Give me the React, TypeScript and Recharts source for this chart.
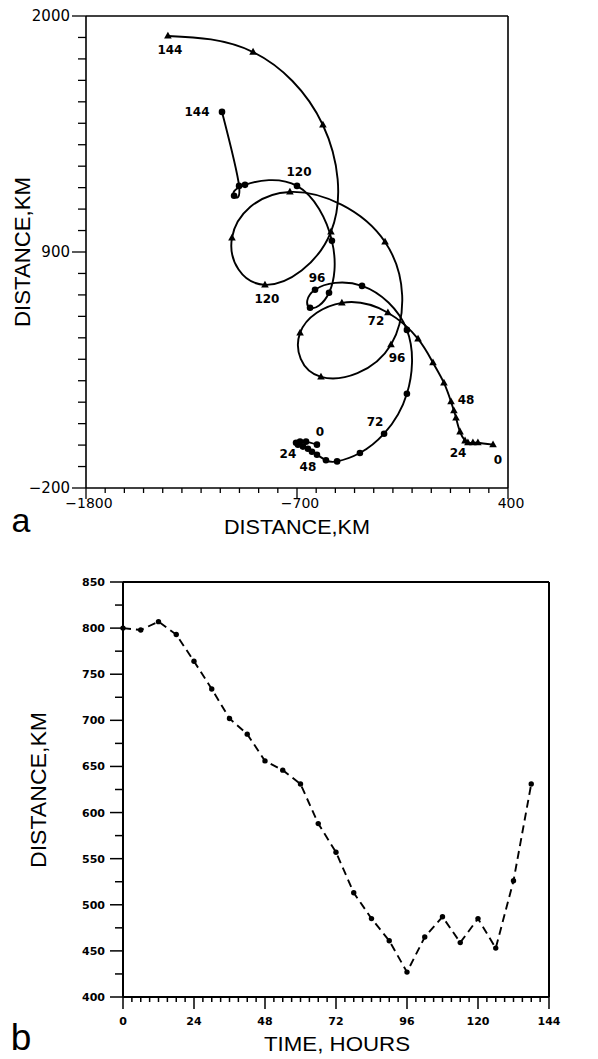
import { Line, LineChart, ReferenceLine, Scatter, ScatterChart, XAxis, YAxis } from "recharts";

// panel a: two tracks, one position every 6 hours
const trackHours = [0, 6, 12, 18, 24, 30, 36, 42, 48, 54, 60, 66, 72, 78, 84, 90, 96, 102, 108, 114, 120, 126, 132, 138, 144];
const triangleX = [322, 243, 217, 191, 176, 150, 129, 118, 103, 66, 9, -69, -226, -466, -684, -575, -210, -241, -737, -1039, -867, -523, -565, -929, -1373];
const triangleY = [2, 11, 11, 11, 20, 62, 127, 160, 202, 290, 384, 495, 617, 663, 523, 318, 468, 947, 1180, 966, 747, 994, 1492, 1832, 1907];
const circleX = [-596, -653, -684, -705, -695, -669, -643, -622, -596, -549, -491, -372, -246, -127, -127, -361, -606, -632, -533, -518, -700, -971, -1028, -1002, -1091];
const circleY = [2, 16, 16, 11, 2, -7, -17, -31, -45, -71, -76, -37, 53, 239, 537, 742, 724, 640, 710, 952, 1208, 1213, 1162, 1208, 1553];

// panel b: separation distance
const sepHours = [0, 6, 12, 18, 24, 30, 36, 42, 48, 54, 60, 66, 72, 78, 84, 90, 96, 102, 108, 114, 120, 126, 132, 138];
const sepDistance = [800, 798, 807, 793, 764, 734, 702, 685, 656, 646, 631, 588, 557, 513, 485, 461, 427, 465, 487, 459, 485, 453, 526, 631];

const aXLabels = [-1800, -700, 400];
const aYLabels = [-200, 900, 2000];
const bXLabels = [0, 24, 48, 72, 96, 120, 144];
const bYLabels = [400, 450, 500, 550, 600, 650, 700, 750, 800, 850];

const aTicks = Array.from({ length: 23 }, (_, i) => -1800 + i * 100);
const aYTicks = Array.from({ length: 23 }, (_, i) => -200 + i * 100);
const bXTicks = Array.from({ length: 49 }, (_, i) => i * 3);
const bYTicks = Array.from({ length: 19 }, (_, i) => 400 + i * 25);

// where each hour label sits relative to its marker
const triangleLabelAt: Record<number, [number, number]> = {
	0: [5, 15],
	24: [-7, 12],
	48: [15, -2],
	72: [-12, 8],
	96: [6, 13],
	120: [2, 14],
	144: [2, 14],
};
const circleLabelAt: Record<number, [number, number]> = {
	0: [3, -13],
	24: [-10, 9],
	48: [-9, 12],
	72: [-9, -12],
	96: [2, -12],
	120: [2, -14],
	144: [-25, 0],
};

const triangleData = trackHours.map((h, i) => ({ hour: h, x: triangleX[i], y: triangleY[i] }));
const circleData = trackHours.map((h, i) => ({ hour: h, x: circleX[i], y: circleY[i] }));
const sepData = sepHours.map((h, i) => ({ hour: h, distance: sepDistance[i] }));

const SANS = "'Liberation Sans', Arial, sans-serif";
const DEJAVU = "'DejaVu Sans', sans-serif";

const fmt = (v: number) => (v < 0 ? "\u2212" + Math.abs(v) : String(v));

function hourLabel(cx: number, cy: number, hour: number, at: Record<number, [number, number]>) {
	const off = at[hour];
	if (!off) return null;
	return (
		<text
			x={cx + off[0]}
			y={cy + off[1]}
			textAnchor="middle"
			dominantBaseline="central"
			fontFamily={DEJAVU}
			fontWeight="bold"
			fontSize={12}
			fill="#000"
		>
			{hour}
		</text>
	);
}

function TriangleMark(props: any) {
	const { cx, cy, payload } = props;
	return (
		<g>
			<path d={`M${cx},${cy - 4.2} L${cx + 3.8},${cy + 2.6} L${cx - 3.8},${cy + 2.6} Z`} fill="#000" />
			{hourLabel(cx, cy, payload.hour, triangleLabelAt)}
		</g>
	);
}

function CircleMark(props: any) {
	const { cx, cy, payload } = props;
	return (
		<g>
			<circle cx={cx} cy={cy} r={3.3} fill="#000" />
			{hourLabel(cx, cy, payload.hour, circleLabelAt)}
		</g>
	);
}

function AXTick(props: any) {
	const { x, y, payload } = props;
	const major = aXLabels.includes(payload.value);
	return (
		<g>
			<line x1={x} y1={y} x2={x} y2={y + (major ? 11 : 5)} stroke="#000" strokeWidth={1.3} />
			{major && (
				<text x={x + 3} y={y + 20} textAnchor="middle" fontFamily={DEJAVU} fontSize={14} fill="#000">
					{fmt(payload.value)}
				</text>
			)}
		</g>
	);
}

function AYTick(props: any) {
	const { x, y, payload } = props;
	const major = aYLabels.includes(payload.value);
	return (
		<g>
			<line x1={x - (major ? 14 : 8)} y1={y} x2={x} y2={y} stroke="#000" strokeWidth={1.3} />
			{major && (
				<text x={x - 16} y={y + 5} textAnchor="end" fontFamily={DEJAVU} fontSize={15} fill="#000">
					{fmt(payload.value)}
				</text>
			)}
		</g>
	);
}

function BXTick(props: any) {
	const { x, y, payload } = props;
	const major = bXLabels.includes(payload.value);
	return (
		<g>
			<line x1={x} y1={y} x2={x} y2={y + (major ? 12 : 5)} stroke="#000" strokeWidth={1.5} />
			{major && (
				<text x={x} y={y + 28} textAnchor="middle" fontFamily={DEJAVU} fontWeight="bold" fontSize={11} fill="#000">
					{payload.value}
				</text>
			)}
		</g>
	);
}

function BYTick(props: any) {
	const { x, y, payload } = props;
	const major = bYLabels.includes(payload.value);
	return (
		<g>
			<line x1={x - (major ? 13 : 8)} y1={y} x2={x} y2={y} stroke="#000" strokeWidth={1.5} />
			{major && (
				<text x={x - 18} y={y + 4} textAnchor="end" fontFamily={DEJAVU} fontWeight="bold" fontSize={11} fill="#000">
					{payload.value}
				</text>
			)}
		</g>
	);
}

function SepDot(props: any) {
	const { cx, cy, index } = props;
	return <circle key={index} cx={cx} cy={cy} r={2.7} fill="#000" />;
}

export default function App() {
	return (
		<div style={{ position: "absolute", left: 0, top: 0, width: 598, height: 1059, background: "#fff" }}>
			<div style={{ position: "absolute", left: 0, top: 0 }}>
				<ScatterChart width={598} height={540} margin={{ top: 16, right: 90, bottom: 0, left: 0 }}>
					<XAxis
						type="number"
						dataKey="x"
						domain={[-1800, 400]}
						ticks={aTicks}
						interval={0}
						height={52}
						tickSize={0}
						tickMargin={0}
						tick={AXTick}
						axisLine={{ stroke: "#000", strokeWidth: 1.6 }}
						allowDataOverflow
					/>
					<YAxis
						type="number"
						dataKey="y"
						domain={[-200, 2000]}
						ticks={aYTicks}
						interval={0}
						width={86}
						tickSize={0}
						tickMargin={0}
						tick={AYTick}
						axisLine={{ stroke: "#000", strokeWidth: 1.6 }}
						allowDataOverflow
					/>
					<ReferenceLine y={2000} stroke="#000" strokeWidth={1.6} />
					<ReferenceLine x={400} stroke="#000" strokeWidth={1.6} />
					<Scatter
						data={triangleData}
						shape={TriangleMark}
						line={{ stroke: "#000", strokeWidth: 1.9, fill: "none" }}
						lineJointType="natural"
						isAnimationActive={false}
					/>
					<Scatter
						data={circleData}
						shape={CircleMark}
						line={{ stroke: "#000", strokeWidth: 1.9, fill: "none" }}
						lineJointType="natural"
						isAnimationActive={false}
					/>
				</ScatterChart>
			</div>
			<div style={{ position: "absolute", left: 0, top: 540 }}>
				<LineChart width={598} height={519} data={sepData} margin={{ top: 42, right: 49, bottom: 0, left: 0 }}>
					<XAxis
						type="number"
						dataKey="hour"
						domain={[0, 144]}
						ticks={bXTicks}
						interval={0}
						height={62}
						tickSize={0}
						tickMargin={0}
						tick={BXTick}
						axisLine={{ stroke: "#000", strokeWidth: 2 }}
					/>
					<YAxis
						type="number"
						domain={[400, 850]}
						ticks={bYTicks}
						interval={0}
						width={123}
						tickSize={0}
						tickMargin={0}
						tick={BYTick}
						axisLine={{ stroke: "#000", strokeWidth: 2 }}
					/>
					<ReferenceLine y={850} stroke="#000" strokeWidth={2} />
					<ReferenceLine x={144} stroke="#000" strokeWidth={2} />
					<Line
						dataKey="distance"
						type="linear"
						stroke="#000"
						strokeWidth={1.9}
						strokeDasharray="8 5"
						dot={SepDot}
						activeDot={false}
						isAnimationActive={false}
					/>
				</LineChart>
			</div>
			<svg width={598} height={1059} style={{ position: "absolute", left: 0, top: 0, pointerEvents: "none" }}>
				<text x={22} y={252} transform="rotate(-90 22 252)" textAnchor="middle" dominantBaseline="central" fontFamily={SANS} fontSize={22} textLength={150} lengthAdjust="spacingAndGlyphs">
					DISTANCE,KM
				</text>
				<text x={297} y={534} textAnchor="middle" fontFamily={SANS} fontSize={21} textLength={146} lengthAdjust="spacingAndGlyphs">
					DISTANCE,KM
				</text>
				<text x={21} y={532} textAnchor="middle" fontFamily={SANS} fontSize={34}>
					a
				</text>
				<text x={38} y={790} transform="rotate(-90 38 790)" textAnchor="middle" dominantBaseline="central" fontFamily={SANS} fontSize={22} textLength={156} lengthAdjust="spacingAndGlyphs">
					DISTANCE,KM
				</text>
				<text x={337} y={1051} textAnchor="middle" fontFamily={SANS} fontSize={21} textLength={146} lengthAdjust="spacingAndGlyphs">
					TIME, HOURS
				</text>
				<text x={21} y={1050} textAnchor="middle" fontFamily={SANS} fontSize={37}>
					b
				</text>
			</svg>
		</div>
	);
}
